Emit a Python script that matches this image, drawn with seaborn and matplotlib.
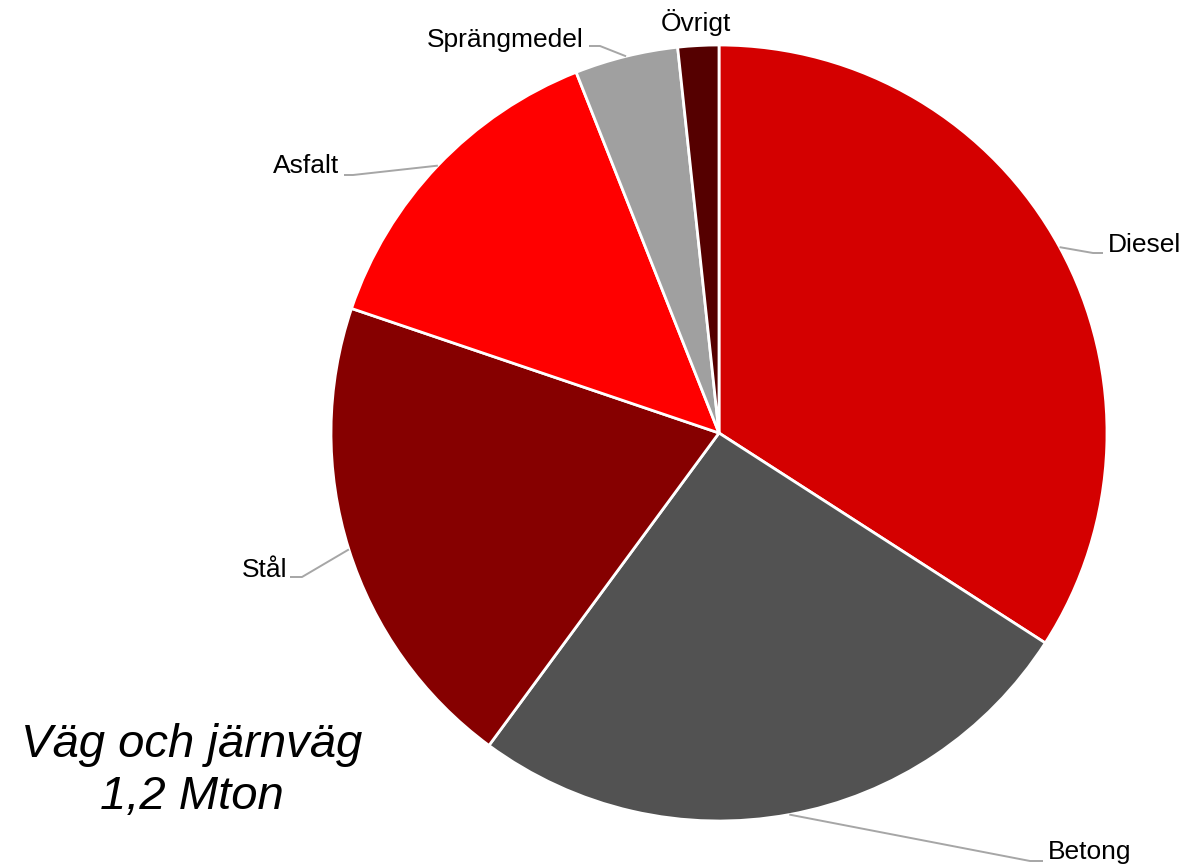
import matplotlib
matplotlib.use("Agg")
import matplotlib.pyplot as plt
import seaborn as sns
import numpy as np

# Data
categories = ["Diesel", "Betong", "Stål", "Asfalt", "Sprängmedel", "Övrigt"]
shares = [34.1, 26.0, 20.1, 13.8, 4.3, 1.7]
colors = ["#D40000", "#525252", "#860000", "#FF0000", "#A0A0A0", "#550000"]
title_lines = ["Väg och järnväg", "1,2 Mton"]

sns.set_theme(style="white")
plt.rcParams["font.family"] = ["Liberation Sans", "DejaVu Sans"]

W, H = 1182, 866
fig = plt.figure(figsize=(W / 100, H / 100), dpi=100)
ax = fig.add_axes([0, 0, 1, 1])

cx, cy, R = 719, 433, 388
wedges, _ = ax.pie(shares, colors=colors, startangle=90, counterclock=False,
                   center=(cx, cy), radius=R, frame=True,
                   wedgeprops=dict(edgecolor="white", linewidth=2.0))
ax.set_xlim(0, W)
ax.set_ylim(0, H)
ax.set_aspect("equal")
ax.axis("off")

# label layout: (elbow point, end point, text anchor, ha) in pixel coords (y down)
layout = {
    "Diesel": ((1093, 253), (1103, 253), (1108, 245), "left"),
    "Betong": ((1030, 861), (1043, 861), (1048, 852), "left"),
    "Stål": ((302, 577), (290, 577), (287, 570), "right"),
    "Asfalt": ((353, 175), (344, 175), (339, 166), "right"),
    "Sprängmedel": ((600, 46), (589, 46), (584, 40), "right"),
    "Övrigt": (None, None, (696, 22), "center"),
}
line_col = "#A6A6A6"
for w, name in zip(wedges, categories):
    elbow, end, txt, ha = layout[name]
    mid = np.deg2rad((w.theta1 + w.theta2) / 2)
    ex, ey = cx + R * np.cos(mid), cy + R * np.sin(mid)
    if elbow is not None:
        ax.plot([ex, elbow[0], end[0]], [ey, H - elbow[1], H - end[1]],
                color=line_col, lw=1.4, solid_capstyle="butt", zorder=1)
    ax.text(txt[0], H - txt[1], name, ha=ha, va="center", fontsize=19, color="black")

ax.text(192, H - 771, "\n".join(title_lines), ha="center", va="center",
        fontsize=34, fontstyle="italic", linespacing=1.22, color="black")

fig.savefig("out.png", dpi=100, facecolor="white")
